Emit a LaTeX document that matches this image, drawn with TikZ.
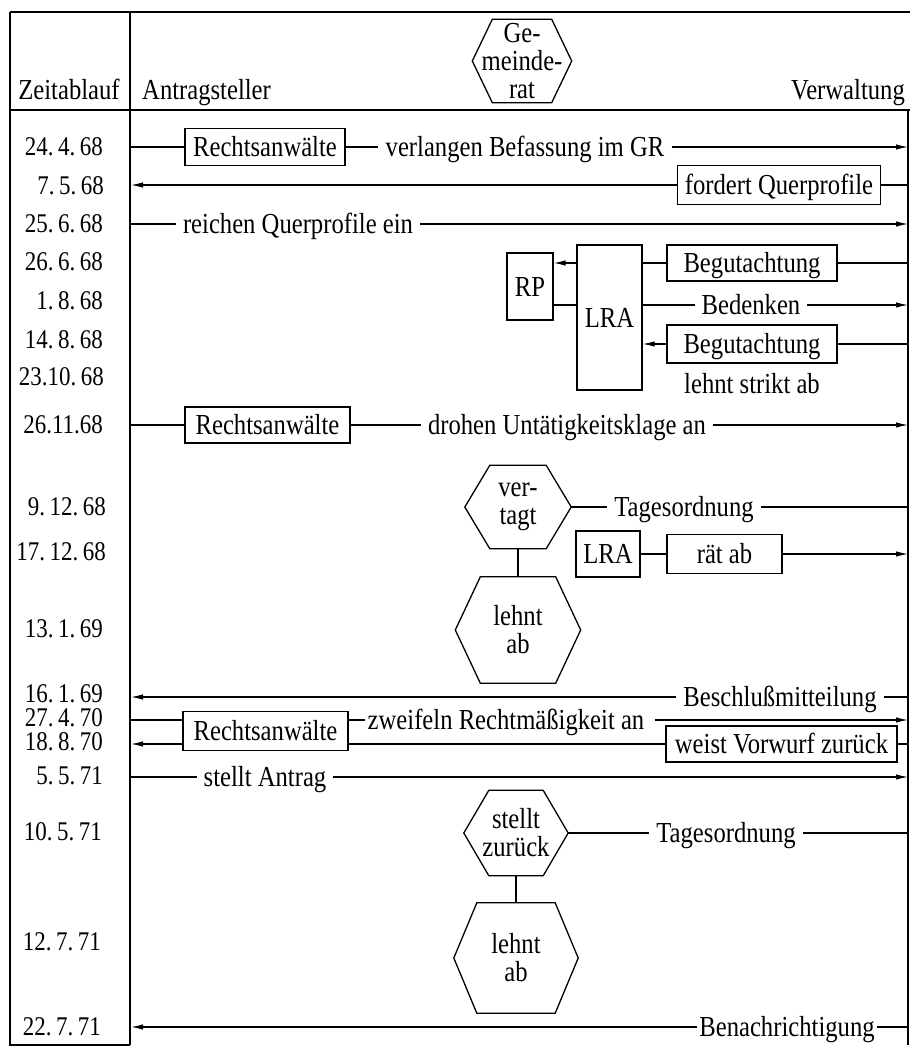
\documentclass[tikz,border=0pt]{standalone}
\usepackage{fontspec}
\setmainfont{Liberation Serif}[FakeStretch=0.85]
\usetikzlibrary{arrows.meta,calc}

\newcommand{\myhex}[7]{%
  \node[hexin, minimum width=#4pt, minimum height=#5pt] (#1) at (#2,#3) {#7};
  \draw[frame] (#1.west) -- ($(#1.north west)+(#6,0)$) -- ($(#1.north east)+(-#6,0)$) -- (#1.east) -- ($(#1.south east)+(-#6,0)$) -- ($(#1.south west)+(#6,0)$) -- cycle;}
\newcommand{\ds}{\hspace{4.5pt}}

\tikzset{
  base/.style={font=\fontsize{29}{28}\selectfont},
  box/.style={base, draw, line width=1.3pt, inner sep=0pt, text height=19.5pt, text depth=0pt},
  lab/.style={base, inner xsep=7pt, inner ysep=0pt, text height=19.5pt, text depth=0pt},
  labt/.style={lab, inner xsep=2.5pt},
  datum/.style={font=\fontsize{27}{27}\selectfont, anchor=east, inner sep=0pt, text height=17.5pt, text depth=0pt},
  hexin/.style={base, inner sep=0pt, align=center},
  ln/.style={line width=1.2pt},
  arr/.style={line width=1.2pt, -{Latex[length=12pt,width=5.5pt]}},
  frame/.style={line width=1.3pt},
}

\begin{document}
\begin{tikzpicture}[x=1pt, y=-1pt]
\useasboundingbox (0,0) rectangle (910,1048);

% frame
\draw[frame] (10,12) -- (910,12);
\draw[frame] (10,110) -- (910,110);
\draw[frame] (10,12) -- (10,1045) -- (130,1045);
\draw[frame] (130,12) -- (130,1045);
\draw[frame] (908,110) -- (908,1045);

\coordinate (L) at (131,0);
\coordinate (R) at (908,0);

% header
\node[base, anchor=base, inner sep=0pt] (zeit) at (69,100) {Zeitablauf};
\node[base, anchor=base west, inner sep=0pt] (antr) at (142,100) {Antragsteller};
\node[base, anchor=base east, inner sep=0pt] (verw) at (905,100) {Verwaltung};
\myhex{gr}{522}{61}{99}{83}{20}{Ge-\\meinde-\\rat}

% dates
\node[datum] (d1) at (103,147) {24.\ds4.\ds68};
\node[datum] (d2) at (104,186) {7.\ds5.\ds68};
\node[datum] (d3) at (103,224) {25.\ds6.\ds68};
\node[datum] (d4) at (103,262) {26.\ds6.\ds68};
\node[datum] (d5) at (103,301) {1.\ds8.\ds68};
\node[datum] (d6) at (103,340) {14.\ds8.\ds68};
\node[datum] (d7) at (104,377) {23.10.\ds68};
\node[datum] (d8) at (103,425) {26.11.68};
\node[datum] (d9) at (106,507) {9.\ds12.\ds68};
\node[datum] (d10) at (106,552) {17.\ds12.\ds68};
\node[datum] (d11) at (103,629) {13.\ds1.\ds69};
\node[datum] (d12) at (103,694) {16.\ds1.\ds69};
\node[datum] (d13) at (103,718) {27.\ds4.\ds70};
\node[datum] (d14) at (103,742) {18.\ds8.\ds70};
\node[datum] (d15) at (103,776) {5.\ds5.\ds71};
\node[datum] (d16) at (102,832) {10.\ds5.\ds71};
\node[datum] (d17) at (101,942) {12.\ds7.\ds71};
\node[datum] (d18) at (101,1027) {22.\ds7.\ds71};

% row 1
\coordinate (l1) at (130,147);
\node[box, minimum width=160pt, minimum height=37pt] (ra1) at (265,147) {Rechtsanwälte};
\node[lab] (v1) at (525,147) {verlangen Befassung im GR};
\draw[ln] (l1) -- (ra1.west);
\draw[ln] (ra1.east) -- (v1.west);
\draw[arr] (v1.east) -- (v1.east -| R);

% row 2
\node[box, minimum width=203pt, minimum height=39pt] (fqp) at (779,185) {fordert Querprofile};
\draw[arr] (fqp.west) -- (fqp.west -| L);
\draw[ln] (fqp.east -| R) -- (fqp.east);

% row 3
\coordinate (l3) at (130,224);
\node[lab] (rq) at (298,224) {reichen Querprofile ein};
\draw[ln] (l3) -- (rq.west);
\draw[arr] (rq.east) -- (rq.east -| R);

% LRA block
\node[box, minimum width=65pt, minimum height=145pt] (lra) at (609.5,317.5) {LRA};
\node[box, minimum width=46pt, minimum height=67pt] (rp) at (530,286.5) {RP};
\node[box, minimum width=170pt, minimum height=36pt] (beg1) at (752,263) {Begutachtung};
\node[lab] (bed) at (751,305) {Bedenken};
\node[box, minimum width=170pt, minimum height=38pt] (beg2) at (752,344) {Begutachtung};
\node[lab] (lsa) at (752,384) {lehnt strikt ab};
\draw[arr] (lra.west |- beg1.west) -- (rp.east |- beg1.west);
\draw[ln] (rp.east |- bed.west) -- (lra.west |- bed.west);
\draw[ln] (lra.east |- beg1.west) -- (beg1.west);
\draw[ln] (beg1.east) -- (beg1.east -| R);
\draw[ln] (lra.east |- bed.west) -- (bed.west);
\draw[arr] (bed.east) -- (bed.east -| R);
\draw[arr] (beg2.west) -- (beg2.west -| lra.east);
\draw[ln] (beg2.east -| R) -- (beg2.east);

% row 26.11.68
\coordinate (l8) at (130,425);
\node[box, minimum width=165pt, minimum height=36pt] (ra2) at (267.5,425) {Rechtsanwälte};
\node[lab] (dr) at (567,425) {drohen Untätigkeitsklage an};
\draw[ln] (l8) -- (ra2.west);
\draw[ln] (ra2.east) -- (dr.west);
\draw[arr] (dr.east) -- (dr.east -| R);

% vertagt
\myhex{vt}{518}{507}{106}{83}{25}{ver-\\tagt}
\node[lab] (tag1) at (684,507) {Tagesordnung};
\draw[ln] (vt.east) -- (tag1.west);
\draw[ln] (tag1.east) -- (tag1.east -| R);
\node[box, minimum width=64pt, minimum height=46pt] (lra2) at (608,554) {LRA};
\node[box, minimum width=115pt, minimum height=39pt] (ratab) at (724.5,554) {rät ab};
\draw[ln] (lra2.east) -- (ratab.west);
\draw[arr] (ratab.east) -- (ratab.east -| R);
\myhex{la1}{518}{630}{125}{106}{25}{lehnt\\ab}
\draw[ln] (vt.south) -- (la1.north);

% row 16.1.69
\node[lab] (bm) at (780,697) {Beschlußmitteilung};
\draw[ln] (bm.east -| R) -- (bm.east);
\draw[arr] (bm.west) -- (bm.west -| L);

% rows 27.4.70 / 18.8.70
\coordinate (l13) at (130,720);
\node[box, minimum width=165pt, minimum height=39pt] (ra3) at (265.5,731) {Rechtsanwälte};
\node[labt] (zw) at (506,720) {zweifeln Rechtmäßigkeit an};
\node[box, minimum width=231pt, minimum height=36pt] (weist) at (781.5,744) {weist Vorwurf zurück};
\draw[ln] (l13) -- (l13 -| ra3.west);
\draw[ln] (ra3.east |- zw.west) -- (zw.west);
\draw[arr] ($(zw.east)+(8,0)$) -- (zw.east -| R);
\draw[ln] (weist.west) -- (weist.west -| ra3.east);
\draw[arr] (ra3.west |- weist.west) -- (weist.west -| L);
\draw[ln] (weist.east) -- (weist.east -| R);

% row 5.5.71
\coordinate (l15) at (130,777);
\node[lab] (sa) at (265,777) {stellt Antrag};
\draw[ln] (l15) -- (sa.west);
\draw[arr] (sa.east) -- (sa.east -| R);

% stellt zurueck
\myhex{sz}{516}{833}{104}{85}{25}{stellt\\zurück}
\node[lab] (tag2) at (726,833) {Tagesordnung};
\draw[ln] (sz.east) -- (tag2.west);
\draw[ln] (tag2.east) -- (tag2.east -| R);
\myhex{la2}{516}{958}{124}{110}{23}{lehnt\\ab}
\draw[ln] (sz.south) -- (la2.north);

% row 22.7.71
\node[labt] (bn) at (787,1027) {Benachrichtigung};
\draw[ln] (bn.east -| R) -- (bn.east);
\draw[arr] (bn.west) -- (bn.west -| L);
\end{tikzpicture}
\end{document}
